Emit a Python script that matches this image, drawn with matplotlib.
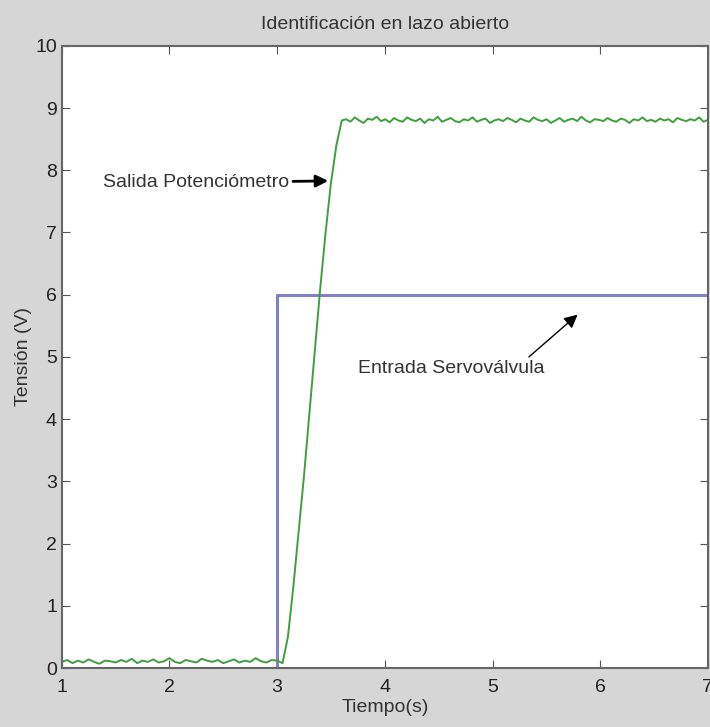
import numpy as np
import matplotlib.pyplot as plt

# Entrada servoválvula (escalón)
t_in = [1.0, 3.0, 3.0, 7.0]
v_in = [0.0, 0.0, 6.0, 6.0]

# Salida potenciómetro: tramo bajo (t = 1 .. 3.05)
v_low = [0.10, 0.13, 0.08, 0.12, 0.09, 0.14, 0.10, 0.07, 0.12, 0.11,
         0.09, 0.13, 0.10, 0.15, 0.08, 0.12, 0.10, 0.14, 0.09, 0.11,
         0.16, 0.10, 0.08, 0.13, 0.11, 0.09, 0.15, 0.12, 0.10, 0.13,
         0.08, 0.11, 0.14, 0.09, 0.12, 0.10, 0.16, 0.11, 0.09, 0.13,
         0.12, 0.08]
# subida (t = 3.05 .. 3.6)
t_rise = [3.05, 3.1, 3.15, 3.2, 3.25, 3.3, 3.35, 3.4, 3.45, 3.5, 3.55, 3.6]
v_rise = [0.10, 0.50, 1.30, 2.20, 3.10, 4.10, 5.10, 6.10, 7.00, 7.80, 8.40, 8.80]
# tramo alto (t = 3.6 .. 7)
v_high = [8.80, 8.82, 8.78, 8.85, 8.80, 8.76, 8.83, 8.81, 8.86, 8.79,
          8.82, 8.77, 8.84, 8.80, 8.78, 8.85, 8.81, 8.79, 8.83, 8.76,
          8.82, 8.80, 8.86, 8.78, 8.81, 8.84, 8.79, 8.77, 8.82, 8.80,
          8.85, 8.78, 8.81, 8.83, 8.76, 8.80, 8.82, 8.79, 8.84, 8.81,
          8.77, 8.83, 8.80, 8.78, 8.85, 8.81, 8.79, 8.82, 8.76, 8.80,
          8.84, 8.78, 8.81, 8.83, 8.79, 8.86, 8.80, 8.77, 8.82, 8.81,
          8.79, 8.84, 8.80, 8.78, 8.83, 8.81, 8.76, 8.82, 8.80, 8.85,
          8.79, 8.81, 8.78, 8.83, 8.80, 8.82, 8.77, 8.84, 8.81, 8.79,
          8.82, 8.80, 8.85, 8.78, 8.81]

t_low = np.linspace(1.0, 3.05, len(v_low))
t_high = np.linspace(3.6, 7.0, len(v_high))
t_out = np.concatenate([t_low, t_rise[1:-1], t_high])
v_out = np.concatenate([v_low, v_rise[1:-1], v_high])

xticks = [1, 2, 3, 4, 5, 6, 7]
yticks = list(range(0, 11))

plt.rcParams['font.family'] = ['Liberation Sans', 'DejaVu Sans']

fig = plt.figure(figsize=(7.1, 7.27), dpi=100, facecolor='#d6d6d6')
ax = fig.add_axes([0.087, 0.081, 0.91, 0.856])
ax.set_facecolor('white')

ax.plot(t_in, v_in, color='#8282c8', linewidth=2.2)
ax.plot(t_out, v_out, color='#3f9f3f', linewidth=1.4)

ax.set_xlim(1, 7)
ax.set_ylim(0, 10)
ax.set_xticks(xticks)
ax.set_yticks(yticks)
ax.tick_params(direction='in', top=True, right=True, length=6,
               labelsize=14, colors='#555555', labelcolor='#222222')
ax.tick_params(axis='x', pad=8)
for s in ax.spines.values():
    s.set_color('#666666')
    s.set_linewidth(1.5)

ax.set_title('Identificación en lazo abierto', fontsize=14, color='#333333', pad=12)
ax.set_xlabel('Tiempo(s)', fontsize=14, color='#333333', labelpad=2)
ax.set_ylabel('Tensión (V)', fontsize=14, color='#333333', labelpad=2)

ax.annotate('Salida Potenciómetro', xy=(3.5, 7.83), xytext=(1.38, 7.8),
            fontsize=14, color='#333333', va='center',
            arrowprops=dict(arrowstyle='-|>', color='black', lw=2, mutation_scale=18,
                            shrinkA=1))
ax.annotate('Entrada Servoválvula', xy=(5.81, 5.71), xytext=(3.75, 4.82),
            fontsize=14, color='#333333', va='center',
            arrowprops=dict(arrowstyle='-|>', color='black', lw=1, mutation_scale=20,
                            shrinkA=0, relpos=(0.9, 1.0)))

fig.savefig('out.png', dpi=100, facecolor=fig.get_facecolor())
